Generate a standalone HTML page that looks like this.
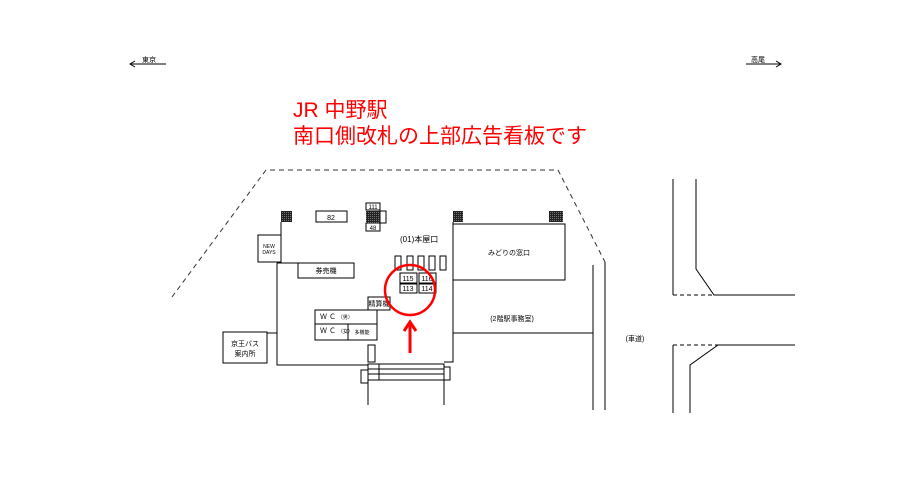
<!DOCTYPE html><html><head><meta charset="utf-8"><style>body{margin:0;background:#fff}svg{display:block}text{font-family:"Liberation Sans","Noto Sans CJK JP",sans-serif}</style></head><body>
<svg width="919" height="491" viewBox="0 0 919 491" xmlns="http://www.w3.org/2000/svg">
<defs><pattern id="h" width="2" height="2" patternUnits="userSpaceOnUse"><rect width="2" height="2" fill="#222"/><rect width="1" height="1" fill="#777"/></pattern></defs>
<g stroke="#000" stroke-width="1" fill="none">
<line x1="130" y1="64" x2="166" y2="64"/><polyline points="135,61 130,64 135,67"/>
<line x1="746" y1="64" x2="781" y2="64"/><polyline points="776,61 781,64 776,67"/>
<polyline points="172,297 266,170 558,170 605,262" stroke-dasharray="5,4" stroke="#333"/>
<polyline points="281,222 281,263"/>
<polyline points="277,263 298,263"/>
<polyline points="277,263 277,365 368,365"/>
<polyline points="453,222 453,362 444,362"/>
<rect x="258" y="235" width="23" height="27"/>
<rect x="298" y="263" width="56" height="15"/>
<rect x="223" y="332" width="44" height="31"/>
<line x1="267" y1="333" x2="277" y2="333"/>
<rect x="316" y="211" width="31" height="11"/>
<rect x="366" y="203" width="14" height="7"/>
<rect x="380" y="211" width="6" height="12"/>
<rect x="366" y="223" width="14" height="8"/>
<rect x="315" y="310" width="62" height="30"/>
<line x1="315" y1="324" x2="348" y2="324"/>
<rect x="348" y="324" width="29" height="16"/>
<rect x="368" y="297" width="22" height="13"/>
<rect x="368" y="345" width="7" height="17"/>
<rect x="368" y="364" width="76" height="16"/>
<line x1="368" y1="369" x2="444" y2="369"/><line x1="368" y1="374" x2="444" y2="374"/>
<line x1="379" y1="364" x2="379" y2="380"/>
<rect x="361" y="370" width="7" height="13"/>
<rect x="444" y="367" width="6" height="13"/>
<line x1="368" y1="380" x2="368" y2="405"/><line x1="444" y1="380" x2="444" y2="405"/>
<rect x="395" y="256" width="6" height="14"/><rect x="407" y="256" width="6" height="14"/><rect x="418" y="256" width="6" height="14"/><rect x="429" y="256" width="6" height="14"/><rect x="440" y="256" width="6" height="14"/>
<rect x="400" y="273" width="17" height="10"/><rect x="419" y="273" width="17" height="10"/>
<rect x="400" y="284" width="17" height="9"/><rect x="419" y="284" width="17" height="9"/>
<rect x="453" y="224" width="112" height="56"/>
<line x1="453" y1="333" x2="593" y2="333"/>
<line x1="593" y1="265" x2="593" y2="410"/><line x1="605" y1="262" x2="605" y2="410"/>
<polyline points="673,179 673,295"/><polyline points="696,179 696,269 714,295 795,295"/>
<line x1="673" y1="295" x2="714" y2="295" stroke-dasharray="4,3"/>
<line x1="673" y1="345" x2="718" y2="345" stroke-dasharray="4,3"/>
<polyline points="795,345 718,345 690,365 690,413"/><polyline points="673,345 673,413"/>
</g>
<g fill="url(#h)"><rect x="281" y="211" width="11" height="11"/><rect x="366" y="211" width="14" height="12"/><rect x="453" y="211" width="10" height="11"/><rect x="549" y="211" width="14" height="11"/></g>
<g font-size="7" fill="#000">
<text x="142" y="62">東京</text><text x="751" y="62">高尾</text>
<text x="331" y="220" text-anchor="middle">82</text>
<text x="373" y="209" text-anchor="middle" font-size="6">111</text>
<text x="373" y="230" text-anchor="middle" font-size="6">48</text>
<text x="269" y="248" text-anchor="middle" font-size="5">NEW</text><text x="269" y="254" text-anchor="middle" font-size="5">DAYS</text>
<text x="326" y="273" text-anchor="middle">券売機</text>
<text x="400" y="242" font-size="8">(01)本屋口</text>
<text x="408" y="281" text-anchor="middle">115</text><text x="427" y="281" text-anchor="middle">116</text>
<text x="408" y="291" text-anchor="middle">113</text><text x="427" y="291" text-anchor="middle">114</text>
<text x="379" y="306" text-anchor="middle">精算機</text>
<text x="320" y="319">Ｗ Ｃ <tspan font-size="5">（男）</tspan></text>
<text x="320" y="333">Ｗ Ｃ <tspan font-size="5">（女）</tspan></text>
<text x="362" y="334" text-anchor="middle" font-size="5">多機能</text>
<text x="245" y="346" text-anchor="middle">京王バス</text><text x="245" y="356" text-anchor="middle">案内所</text>
<text x="509" y="255" text-anchor="middle">みどりの窓口</text>
<text x="512" y="321" text-anchor="middle">(2階駅事務室)</text>
<text x="635" y="341" text-anchor="middle">(車道)</text>
</g>
<g fill="#f00" font-size="21"><text x="293" y="117">JR 中野駅</text><text x="293" y="143">南口側改札の上部広告看板です</text></g>
<circle cx="410" cy="290" r="25" fill="none" stroke="#f00" stroke-width="2.5"/>
<line x1="410" y1="353" x2="410" y2="325" stroke="#f00" stroke-width="3"/>
<polyline points="404,331 410,322 416,331" fill="none" stroke="#f00" stroke-width="3"/>
</svg></body></html>
